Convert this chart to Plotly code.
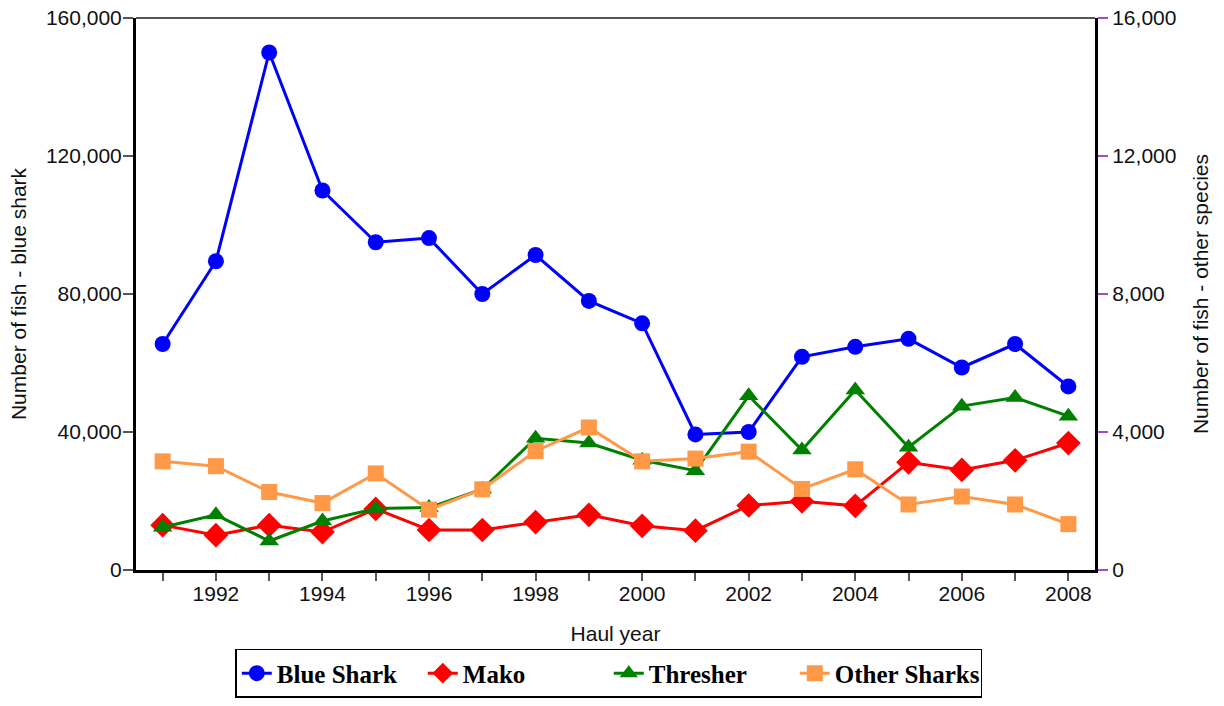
import plotly.graph_objects as go

# Haul years and catch counts
years = list(range(1991, 2009))

blue_shark = [65500, 89500, 150000, 110000, 95000, 96200, 80000, 91300, 78000, 71500,
              39300, 40000, 61800, 64700, 67000, 58700, 65500, 53200]
mako = [1300, 1010, 1300, 1100, 1770, 1160, 1160, 1390, 1600, 1280,
        1140, 1870, 1990, 1860, 3120, 2900, 3180, 3680]
thresher = [1240, 1600, 840, 1420, 1780, 1810, 2340, 3820, 3680, 3180,
            2880, 5050, 3480, 5220, 3560, 4750, 5000, 4460]
other_sharks = [3150, 3010, 2260, 1940, 2800, 1750, 2340, 3450, 4130, 3150,
                3230, 3430, 2350, 2920, 1900, 2130, 1900, 1330]

year_labels = [str(y) if y % 2 == 0 else '' for y in years]
left_ticks = [0, 40000, 80000, 120000, 160000]
right_ticks = [0, 4000, 8000, 12000, 16000]

fig = go.Figure()

# Blue shark on the left axis
fig.add_trace(go.Scatter(
    x=years, y=blue_shark, name='Blue Shark', mode='lines+markers',
    line=dict(color='#0000FF', width=3),
    marker=dict(symbol='circle', size=16, color='#0000FF'),
))
# Other species on the right axis
fig.add_trace(go.Scatter(
    x=years, y=mako, name='Mako', mode='lines+markers', yaxis='y2',
    line=dict(color='#FF0000', width=3),
    marker=dict(symbol='diamond', size=19, color='#FF0000'),
))
fig.add_trace(go.Scatter(
    x=years, y=thresher, name='Thresher', mode='lines+markers', yaxis='y2',
    line=dict(color='#008000', width=3),
    marker=dict(symbol='triangle-up', size=17, color='#008000'),
))
fig.add_trace(go.Scatter(
    x=years, y=other_sharks, name='Other Sharks', mode='lines+markers', yaxis='y2',
    line=dict(color='#FF9948', width=3),
    marker=dict(symbol='square', size=16, color='#FF9948'),
))

axis_font = dict(family='Liberation Sans, Arial', size=21, color='#111111')

fig.update_layout(
    width=1224, height=706,
    margin=dict(l=136, r=129, t=18, b=136, autoexpand=False),
    paper_bgcolor='white', plot_bgcolor='white',
    separators='.,',
    font=axis_font,
    xaxis=dict(
        range=[1990.5, 2008.5], automargin=False,
        tickmode='array', tickvals=years, ticktext=year_labels,
        ticks='outside', ticklen=8, tickcolor='#555555', tickwidth=1.5,
        ticklabelstandoff=-5, ticklabeloverflow='allow',
        showline=True, linecolor='black', linewidth=3,
        mirror=False, showgrid=False, zeroline=False,
        tickfont=axis_font,
        title=dict(text='Haul year', font=axis_font, standoff=23),
    ),
    yaxis=dict(
        range=[0, 160000], automargin=False,
        tickmode='array', tickvals=left_ticks,
        tickformat=',d',
        ticks='outside', ticklen=10, tickcolor='#555555', tickwidth=2,
        ticklabelstandoff=-3, ticklabeloverflow='allow',
        showline=True, linecolor='black', linewidth=3,
        showgrid=False, zeroline=False,
        tickfont=axis_font,
        title=dict(text='Number of fish - blue shark', font=axis_font, standoff=14),
    ),
    yaxis2=dict(
        range=[0, 16000], overlaying='y', side='right', automargin=False,
        tickmode='array', tickvals=right_ticks,
        tickformat=',d',
        ticks='outside', ticklen=10, tickcolor='#9B4FD0', tickwidth=2,
        ticklabeloverflow='allow',
        showline=True, linecolor='black', linewidth=3,
        showgrid=False, zeroline=False,
        tickfont=axis_font,
        title=dict(text='Number of fish - other species', font=axis_font, standoff=18),
    ),
    legend=dict(
        orientation='h', x=0.493, xanchor='center', y=-0.143, yanchor='top',
        bordercolor='black', borderwidth=1.5, bgcolor='white',
        font=dict(family='Liberation Serif, Times New Roman', size=25, color='black', weight='bold'),
        entrywidth=141, entrywidthmode='pixels',
        itemsizing='trace',
    ),
    showlegend=True,
)

# Grey top border line of the plot area
fig.add_shape(type='line', xref='paper', yref='paper', x0=0, x1=1, y0=1, y1=1,
              line=dict(color='#555555', width=2))

# drop the default body margin so the figure sits at the page corner
fig.write_html("out.html", config={'displayModeBar': False},
               post_script="document.body.style.margin = '0';")
